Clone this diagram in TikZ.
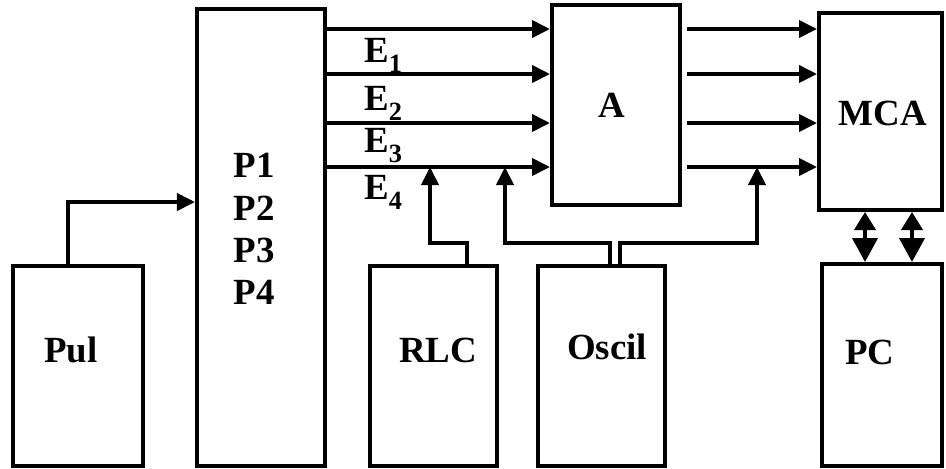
\documentclass[tikz,border=0pt]{standalone}
\usepackage{fontspec}
\setmainfont{Liberation Serif}
\usetikzlibrary{arrows.meta,positioning}

\tikzset{
  blk/.style={draw, line width=2.3pt, inner sep=0pt},
  lab/.style={font=\bfseries\fontsize{21}{24}\selectfont},
  sig/.style={line width=2.2pt, -{Triangle[length=0.36cm,width=0.34cm]}},
  bus/.style={line width=2.2pt, {Triangle[length=0.36cm,width=0.42cm]}-{Triangle[length=0.48cm,width=0.5cm]}}
}
\newcommand{\esub}[1]{E\raisebox{-6pt}{\fontsize{15}{15}\selectfont #1}}

\begin{document}
\begin{tikzpicture}[x=0.02cm,y=-0.02cm]
    \useasboundingbox (0,0) rectangle (946,468);
    % blocks
    \node[blk, minimum width=2.6cm, minimum height=4cm] (pul) at (78,366) {};
    \node[blk, minimum width=2.56cm, minimum height=9.14cm] (pp) at (261,237.5) {};
    \node[blk, minimum width=2.56cm, minimum height=4cm] (amp) at (616,105) {};
    \node[blk, minimum width=2.46cm, minimum height=3.94cm] (mca) at (880.5,111.5) {};
    \node[blk, minimum width=2.54cm, minimum height=4cm] (rlc) at (433.5,366) {};
    \node[blk, minimum width=2.54cm, minimum height=4cm] (osc) at (601.5,366) {};
    \node[blk, minimum width=2.4cm, minimum height=4.04cm] (pc) at (882,365) {};
    % texts
    \node[lab] (pullab) at (71,350) {Pul};
    \node[lab, align=center, inner sep=0pt] (pplab) at (254,229) {P1\\P2\\P3\\P4};
    \node[lab] (amplab) at (612,105) {A};
    \node[lab] (mcalab) at (883,113) {MCA};
    \node[lab] (rlclab) at (438,350) {RLC};
    \node[lab] (osclab) at (607,347) {Oscil};
    \node[lab] (pclab) at (870,352) {PC};
    % channel levels
    \coordinate (e1) at (0,29);
    \coordinate (e2) at (0,74);
    \coordinate (e3) at (0,123);
    \coordinate (e4) at (0,167);
    \foreach \k in {1,...,4} {
        \draw[sig] (pp.east |- e\k) -- (amp.west |- e\k);
        \draw[sig] ([xshift=3pt]amp.east |- e\k) -- (mca.west |- e\k);
    }
    \node[lab, anchor=base west, inner sep=0pt] (el1) at (364,62) {\esub{1}};
    \node[lab, anchor=base west, inner sep=0pt] (el2) at (364,110) {\esub{2}};
    \node[lab, anchor=base west, inner sep=0pt] (el3) at (364,152) {\esub{3}};
    \node[lab, anchor=base west, inner sep=0pt] (el4) at (364,199) {\esub{4}};
    % pulser to P
    \coordinate (pin) at (0,202);
    \draw[sig] (pul.north -| 68,0) |- (pp.west |- pin);
    % RLC and oscillator feeds
    \coordinate (rlcout) at (467,266);
    \coordinate (rlcin) at (430,167);
    \coordinate (oscl) at (610,266);
    \coordinate (oscr) at (620,266);
    \coordinate (ampin) at (505,167);
    \coordinate (mcain) at (757,167);
    \draw[sig] (rlcout) -- ++(0,-23) -| (rlcin);
    \draw[sig] (oscl) -- ++(0,-23) -| (ampin);
    \draw[sig] (oscr) -- ++(0,-23) -| (mcain);
    % MCA <-> PC
    \draw[bus] (mca.south -| 865,0) -- (pc.north -| 865,0);
    \draw[bus] (mca.south -| 912,0) -- (pc.north -| 912,0);
\end{tikzpicture}
\end{document}
